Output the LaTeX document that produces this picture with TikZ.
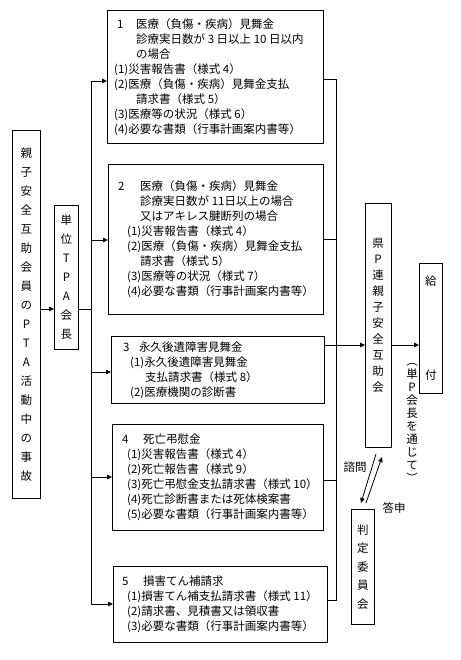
\documentclass[tikz,border=0pt]{standalone}
\usepackage{fontspec}
\setmainfont{Noto Sans CJK JP}
\usetikzlibrary{arrows.meta,calc}
\begin{document}
\begin{tikzpicture}[x=1pt,y=-1pt,
  ln/.style={line width=0.8pt},
  arr/.style={ln, -{Triangle[length=5pt,width=4.5pt]}},
  frame/.style={draw, ln, rectangle, inner sep=0pt, anchor=north west},
  para/.style={inner sep=0pt, anchor=west, align=left, font=\fontsize{11.5}{15}\selectfont},
  vtext/.style={inner sep=0pt, align=center, font=\fontsize{11.5}{#1}\selectfont},
  lbl/.style={inner sep=0pt, font=\fontsize{11.5}{14}\selectfont}]
\useasboundingbox (0,0) rectangle (460,660);

% left boxes
\node[frame, vtext=19, minimum width=28, minimum height=368] (lb) at (12,130)
  {親\\子\\安\\全\\互\\助\\会\\員\\の\\P\\T\\A\\活\\動\\中\\の\\事\\故};
\node[frame, vtext=19, minimum width=24, minimum height=144] (ub) at (54,205)
  {単\\位\\T\\P\\A\\会\\長};

% middle boxes
\node[frame, minimum width=216, minimum height=133] (b1) at (107,10) {};
\node[frame, minimum width=215, minimum height=150] (b2) at (108,164) {};
\node[frame, minimum width=213, minimum height=67] (b3) at (111,336) {};
\node[frame, minimum width=211, minimum height=106] (b4) at (112,424) {};
\node[frame, minimum width=214, minimum height=76] (b5) at (113,566) {};

\node[para] (b1t) at ($(b1.west)+(7,0)$) {%
\makebox[22pt][l]{\hspace{3pt}1}医療（負傷・疾病）見舞金\\
\hspace{22pt}診療実日数が 3 日以上 10 日以内\\
\hspace{22pt}の場合\\
(1)災害報告書（様式 4）\\
(2)医療（負傷・疾病）見舞金支払\\
\hspace{22pt}請求書（様式 5）\\
(3)医療等の状況（様式 6）\\
(4)必要な書類（行事計画案内書等）};

\node[para] (b2t) at ($(b2.west)+(10,0)$) {%
\makebox[22pt][l]{2}医療（負傷・疾病）見舞金\\
\hspace{22pt}診療実日数が 11日以上の場合\\
\hspace{22pt}又はアキレス腱断列の場合\\
\hspace{9pt}(1)災害報告書（様式 4）\\
\hspace{9pt}(2)医療（負傷・疾病）見舞金支払\\
\hspace{22pt}請求書（様式 5）\\
\hspace{9pt}(3)医療等の状況（様式 7）\\
\hspace{9pt}(4)必要な書類（行事計画案内書等）};

\node[para] (b3t) at ($(b3.west)+(12,0)$) {%
\makebox[16pt][l]{3}永久後遺障害見舞金\\
\hspace{7pt}(1)永久後遺障害見舞金\\
\hspace{22pt}支払請求書（様式 8）\\
\hspace{7pt}(2)医療機関の診断書};

\node[para] (b4t) at ($(b4.west)+(10,0)$) {%
\makebox[21pt][l]{4}死亡弔慰金\\
\hspace{5pt}(1)災害報告書（様式 4）\\
\hspace{5pt}(2)死亡報告書（様式 9）\\
\hspace{5pt}(3)死亡弔慰金支払請求書（様式 10）\\
\hspace{5pt}(4)死亡診断書または死体検案書\\
\hspace{5pt}(5)必要な書類（行事計画案内書等）};

\node[para] (b5t) at ($(b5.west)+(9,0)$) {%
\makebox[21pt][l]{5}損害てん補請求\\
\hspace{5pt}(1)損害てん補支払請求書（様式 11）\\
\hspace{5pt}(2)請求書、見積書又は領収書\\
\hspace{5pt}(3)必要な書類（行事計画案内書等）};

% right boxes
\node[frame, minimum width=26, minimum height=244] (kp) at (365,203) {};
\node[vtext=16] (kpt) at (378,315) {県\\P\\連\\親\\子\\安\\全\\互\\助\\会};
\node[frame, vtext=14, minimum width=23, minimum height=130] (gf) at (419,263) {給\\[80pt]付};
\node[frame, vtext=18.5, minimum width=23, minimum height=115] (hj) at (351,509)
  {判\\定\\委\\員\\会};
\node[vtext=13] (via) at (412,423) {︵\\単\\P\\会\\長\\を\\通\\じ\\て\\︶};

% left connectors
\coordinate (yj) at (0,309);
\coordinate (trTop) at (91,81);
\coordinate (trBot) at (91,604);
\coordinate (a2) at (91,240);
\coordinate (a3) at (91,372);
\coordinate (a4) at (91,477);
\draw[arr] (lb.east |- yj) -- (ub.west |- yj);
\draw[ln] (ub.east |- yj) -- (trTop |- yj);
\draw[ln] (trTop) -- (trBot);
\draw[arr] (trTop) -- (b1.west |- trTop);
\draw[arr] (a2) -- (b2.west |- a2);
\draw[arr] (a3) -- (b3.west |- a3);
\draw[arr] (a4) -- (b4.west |- a4);
\draw[arr] (trBot) -- (b5.west |- trBot);

% right connectors
\coordinate (busTop) at (336,79);
\coordinate (busBot) at (336,600);
\coordinate (r2) at (336,239);
\coordinate (r3) at (336,345);
\coordinate (r4) at (336,480);
\draw[ln] (b1.east |- busTop) -- (busTop) -- (busBot) -- (b5.east |- busBot);
\draw[ln] (b2.east |- r2) -- (r2);
\draw[ln] (b4.east |- r4) -- (r4);
\draw[arr] (b3.east |- r3) -- (kp.west |- r3);
\draw[arr] (kp.east |- r3) -- (gf.west |- r3);

% consultation arrows
\coordinate (s1) at (376,454);
\coordinate (s2) at (361,503);
\coordinate (t1) at (366,503);
\coordinate (t2) at (382,457);
\draw[arr] (s1) -- (s2);
\draw[arr] (t1) -- (t2);
\node[lbl] (shimon) at (355,467) {諮問};
\node[lbl] (toshin) at (394,508) {答申};
\end{tikzpicture}
\end{document}
